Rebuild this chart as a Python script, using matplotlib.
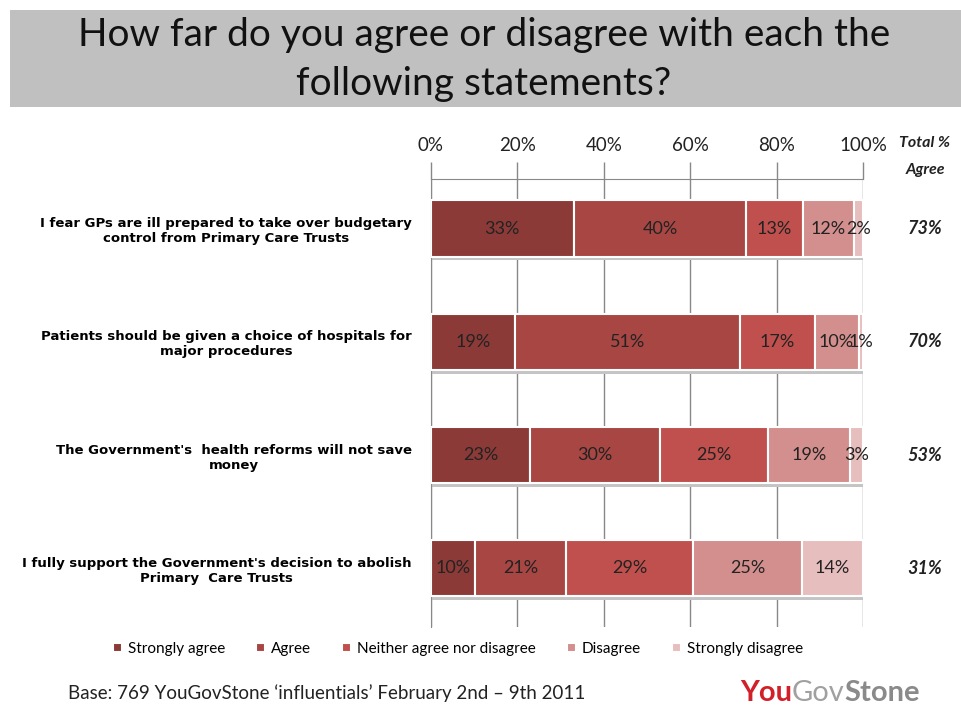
import numpy as np
import matplotlib.pyplot as plt
import matplotlib.transforms as mtransforms
from matplotlib.patches import Rectangle

plt.rcParams['font.family'] = ['Lato', 'DejaVu Sans']

statements = [
    "I fear GPs are ill prepared to take over budgetary\ncontrol from Primary Care Trusts",
    "Patients should be given a choice of hospitals for\nmajor procedures",
    "The Government's  health reforms will not save\nmoney",
    "I fully support the Government's decision to abolish\nPrimary  Care Trusts",
]
responses = ["Strongly agree", "Agree", "Neither agree nor disagree", "Disagree", "Strongly disagree"]
strongly_agree = [33, 19, 23, 10]
agree = [40, 51, 30, 21]
neither = [13, 17, 25, 29]
disagree = [12, 10, 19, 25]
strongly_disagree = [2, 1, 3, 14]
total_agree = [73, 70, 53, 31]
colors = ["#8c3a37", "#a84643", "#c0504d", "#d38f8d", "#e6bebd"]

data = np.array([strongly_agree, agree, neither, disagree, strongly_disagree], dtype=float)
# 100% stacked: each row is scaled to fill the full width
shares = data / data.sum(axis=0) * 100

fig = plt.figure(figsize=(9.62, 7.06), dpi=100)
fig.patches.append(Rectangle((10 / 962, 1 - 107 / 706), 952 / 962, 97 / 706,
                             transform=fig.transFigure, facecolor="#c0c0c0",
                             edgecolor="none", zorder=0))
fig.text(0.503, 1 - 35 / 706, "How far do you agree or disagree with each the",
         ha="center", va="center", fontsize=28, color="#111111")
fig.text(0.503, 1 - 84 / 706, "following statements?",
         ha="center", va="center", fontsize=28, color="#111111")

ax = fig.add_axes([431 / 962, 1 - 627 / 706, 432 / 962, 448 / 706])
y = np.arange(len(statements))

# soft grey shadow under each bar
ax.barh(y + 0.03, shares.sum(axis=0), height=0.5, color="#c4c4c4", zorder=2)

left = np.zeros(len(statements))
for i, name in enumerate(responses):
    bars = ax.barh(y, shares[i], left=left, height=0.5, color=colors[i],
                   edgecolor="white", linewidth=1.5, label=name, zorder=3)
    ax.bar_label(bars, labels=[f"{int(v)}%" for v in data[i]], label_type="center",
                 fontsize=13, color="#222222", zorder=4)
    left += shares[i]

ax.set_xlim(0, 100)
ax.set_ylim(3.52, -0.44)
ax.set_xticks(np.arange(0, 101, 20))
ax.set_xticklabels([f"{t}%" for t in range(0, 101, 20)])
ax.xaxis.tick_top()
ax.tick_params(axis="x", length=12, width=1, color="#888888", labelsize=13.5,
               pad=6, labelcolor="#222222")
ax.xaxis.grid(True, color="#888888", linewidth=1, zorder=0)
ax.set_yticks(y)
ax.set_yticklabels(statements, fontsize=9.5, fontweight="bold",
                   multialignment="center", family="DejaVu Sans")
ax.tick_params(axis="y", length=0, pad=14)
for s in ["right", "bottom"]:
    ax.spines[s].set_visible(False)
ax.spines["top"].set_color("#888888")
ax.spines["left"].set_color("#888888")

tr = mtransforms.blended_transform_factory(fig.transFigure, ax.transData)
for yi, tot in zip(y, total_agree):
    ax.text(925 / 962, yi, f"{tot}%", transform=tr, ha="center", va="center",
            fontsize=13, fontweight="bold", fontstyle="italic", color="#222222")
fig.text(925 / 962, 1 - 143 / 706, "Total %", ha="center", va="center",
         fontsize=11.5, fontweight="bold", fontstyle="italic", color="#222222")
fig.text(925 / 962, 1 - 170 / 706, "Agree", ha="center", va="center",
         fontsize=11.5, fontweight="bold", fontstyle="italic", color="#222222")

fig.legend(loc="center", bbox_to_anchor=(458 / 962, 1 - 649 / 706), ncol=5,
           frameon=False, fontsize=11, handlelength=0.6, handleheight=0.6,
           handletextpad=0.4, columnspacing=2.0)

fig.text(68 / 962, 1 - 693 / 706, "Base: 769 YouGovStone \u2018influentials\u2019 February 2nd \u2013 9th 2011",
         ha="left", va="center", fontsize=13.5, color="#222222")
t1 = fig.text(740 / 962, 1 - 693 / 706, "You", ha="left", va="center",
              fontsize=21, fontweight="bold", color="#d2202a")
fig.canvas.draw()
r = fig.canvas.get_renderer()
bb1 = t1.get_window_extent(r).transformed(fig.transFigure.inverted())
t2 = fig.text(bb1.x1, 1 - 693 / 706, "Gov", fontsize=21, color="#a0a0a0",
              va="center", ha="left")
bb2 = t2.get_window_extent(r).transformed(fig.transFigure.inverted())
fig.text(bb2.x1, 1 - 693 / 706, "Stone", fontsize=21, fontweight="bold",
         color="#8a8a8a", va="center", ha="left")

fig.savefig("out.png", dpi=100)
